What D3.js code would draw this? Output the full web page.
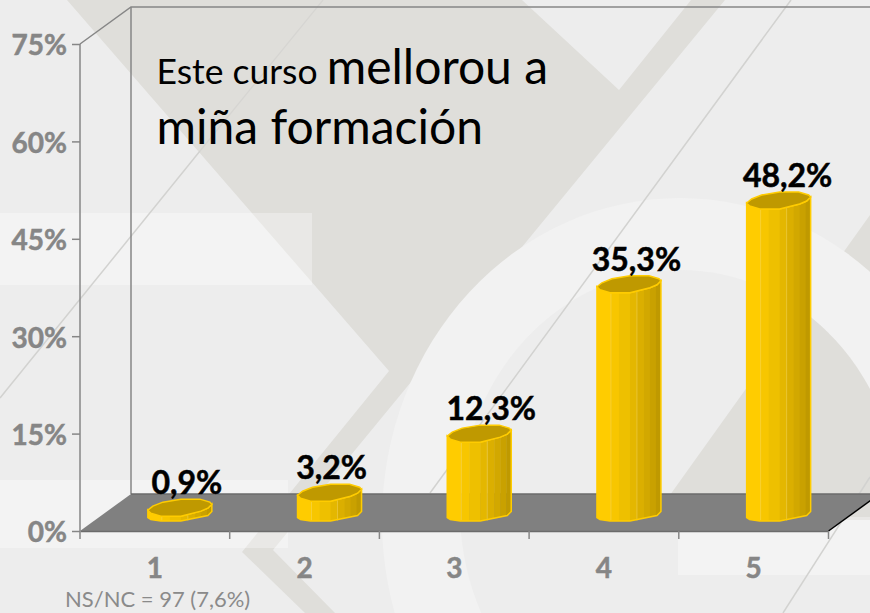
<!DOCTYPE html>
<html>
<head>
<meta charset="utf-8">
<title>Este curso mellorou a miña formación</title>
<script src="https://cdn.jsdelivr.net/npm/d3@7"></script>
<style>
  html, body { margin: 0; padding: 0; background: #ededed; }
  svg { display: block; }
  text { font-family: Lato, "Open Sans", sans-serif; }
</style>
</head>
<body>
<div id="chart"></div>
<script>
const categories = ["1", "2", "3", "4", "5"];
const percentValues = [0.9, 3.2, 12.3, 35.3, 48.2];
const valueLabels = ["0,9%", "3,2%", "12,3%", "35,3%", "48,2%"];
const yTicks = [0, 15, 30, 45, 60, 75];

const width = 870;
const height = 613;

const svg = d3
  .select("#chart")
  .append("svg")
  .attr("width", width)
  .attr("height", height);

const defs = svg.append("defs");
const toPath = d3.line();

// Slide background behind the chart
const bg = svg.append("g").attr("class", "background");
const darkShade = "#dfdeda";
const lightShade = "#f2f2f2";
const rightWedge = [[670, 495], [870, 215], [870, 520], [670, 520]];

bg.append("rect").attr("width", width).attr("height", height).attr("fill", "#ededed");

bg.append("path")
  .attr("d", toPath([[67, 0], [522, 0], [619, 90], [691, 0], [725, 0], [273, 550], [335, 613], [305, 613], [242, 552], [389, 371]]) + "Z")
  .attr("fill", darkShade);

bg.append("path").attr("d", toPath(rightWedge) + "Z").attr("fill", darkShade);

bg.append("ellipse")
  .attr("cx", 680).attr("cy", 520).attr("rx", 298).attr("ry", 322)
  .attr("fill", lightShade);

bg.append("ellipse")
  .attr("cx", 680).attr("cy", 510).attr("rx", 220).attr("ry", 240)
  .attr("fill", "#ededed");

const wedgeClip = defs.append("clipPath").attr("id", "wedge-clip");
wedgeClip.append("ellipse").attr("cx", 680).attr("cy", 510).attr("rx", 220).attr("ry", 240);
wedgeClip.append("rect").attr("x", 860).attr("y", 403).attr("width", 10).attr("height", 120);

bg.append("path")
  .attr("d", toPath(rightWedge) + "Z")
  .attr("fill", darkShade)
  .attr("clip-path", "url(#wedge-clip)");

// Pale strips
[[0, 213, 312, 72], [0, 480, 288, 68], [678, 517, 192, 58]].forEach(([x, y, w, h]) => {
  bg.append("rect")
    .attr("x", x).attr("y", y).attr("width", w).attr("height", h)
    .attr("fill", "#fff").attr("opacity", 0.32);
});

// Thin diagonals, the first one nearly vanishes over the dark shape
[[[0, 398], [200, 151]], [[791, 0], [430, 493]], [[783, 613], [870, 477]]].forEach(pts => {
  bg.append("path")
    .attr("d", toPath(pts))
    .attr("fill", "none")
    .attr("stroke", "#d2d2d0")
    .attr("stroke-width", 1.5);
});
bg.append("path")
  .attr("d", toPath([[200, 151], [323, 0]]))
  .attr("fill", "none")
  .attr("stroke", "#d6d5d2")
  .attr("stroke-width", 1.2);

// Scales, with the 3D depth as a fixed offset
const depthX = 51;
const depthY = 37;

const xScale = d3.scaleBand().domain(categories).range([80, 828.5]);
const yScale = d3.scaleLinear().domain([0, 75]).range([531, 44]);

const axisColor = "#868686";
const x0 = xScale.range()[0];
const x1 = xScale.range()[1];
const yBottom = yScale(0);
const yTop = yScale(75);

// Walls and floor
const walls = svg.append("g").attr("class", "walls");

walls.append("path")
  .attr("d", toPath([[x0, yTop], [x0 + depthX, yTop - depthY], [width, yTop - depthY]]))
  .attr("fill", "none")
  .attr("stroke", axisColor)
  .attr("stroke-width", 1.5);

walls.append("line")
  .attr("x1", x0 + depthX).attr("x2", x0 + depthX)
  .attr("y1", yTop - depthY).attr("y2", yBottom - depthY)
  .attr("stroke", axisColor)
  .attr("stroke-width", 1.5);

walls.append("path")
  .attr("d", toPath([[x0, yBottom], [x1, yBottom], [x1 + depthX, yBottom - depthY], [x0 + depthX, yBottom - depthY]]) + "Z")
  .attr("fill", "#808080");

walls.append("line")
  .attr("x1", x0 + depthX).attr("x2", width)
  .attr("y1", yBottom - depthY).attr("y2", yBottom - depthY)
  .attr("stroke", "#6b6b6b")
  .attr("stroke-width", 1.5);

walls.append("line")
  .attr("x1", x1).attr("x2", x1 + depthX)
  .attr("y1", yBottom).attr("y2", yBottom - depthY)
  .attr("stroke", "#000")
  .attr("stroke-width", 1.5);

// Axes
const yAxis = svg.append("g")
  .attr("transform", `translate(${x0},0)`)
  .call(d3.axisLeft(yScale).tickValues(yTicks).tickSize(8).tickPadding(5).tickFormat(d => d + "%"));

const xAxis = svg.append("g")
  .attr("transform", `translate(0,${yBottom})`)
  .call(d3.axisBottom(xScale).tickSize(0).tickPadding(0));

// axisBottom ticks sit on band centres, the chart has them on the band edges
xAxis.selectAll(".tick line").remove();
xAxis.selectAll(".edge-tick")
  .data(categories.concat("end"))
  .enter()
  .append("line")
  .attr("class", "edge-tick")
  .attr("x1", (d, i) => x0 + i * xScale.step())
  .attr("x2", (d, i) => x0 + i * xScale.step())
  .attr("y1", 0)
  .attr("y2", 8)
  .attr("stroke", axisColor)
  .attr("stroke-width", 1.5);

xAxis.selectAll(".tick text").attr("y", 47).attr("dy", 0);
yAxis.selectAll(".tick text").attr("y", 2);

[yAxis, xAxis].forEach(axis => {
  axis.selectAll(".domain").attr("stroke", axisColor).attr("stroke-width", 1.5);
  axis.selectAll(".tick line").attr("stroke", axisColor).attr("stroke-width", 1.5);
  axis.selectAll(".tick text")
    .attr("fill", axisColor)
    .attr("stroke", axisColor)
    .attr("stroke-width", 0.5)
    .style("font-family", "Lato, sans-serif")
    .style("font-weight", 700)
    .style("font-size", "28px");
});
yAxis.select(".domain").attr("d", `M0,${yTop}V${yBottom}`);
xAxis.select(".domain").attr("stroke", "#6b6b6b");

// Bars: faceted columns seen from above
const barWidth = 64;
const barLeft = d => xScale(d) + xScale.bandwidth() / 2 - barWidth / 2 + depthX / 2 - 0.5;
const capLift = 15;
const baseLift = 13.5;

const capUpper = [[0, 0], [5, -4], [15, -8], [33, -11], [52, -11], [62, -8], [64, -6]];
const capLower = [[64, -6], [60, -2], [53, 1], [33, 6], [13, 6], [3, 3], [0, 0]];
const baseLower = [[64, -6], [60, -2], [33, 3.5], [13, 3.5], [3, 2], [0, 0]];
const facetEdges = [0, 14, 22, 33, 40, 47, 53, 59, 64];
const facetColors = ["#ffcc00", "#f7c600", "#eec000", "#e4b700", "#dbaf00", "#d2a800", "#c9a100", "#bf9900"];

const shift = (pts, dx, dy) => pts.map(([x, y]) => [x + dx, y + dy]);

const bars = svg.selectAll(".bar")
  .data(categories)
  .enter()
  .append("g")
  .attr("class", "bar");

bars.each(function (d, i) {
  const g = d3.select(this);
  const left = barLeft(d);
  const top = yScale(percentValues[i]) - capLift;
  const base = yScale(0) - baseLift;

  const body = toPath(
    shift(capLower.slice().reverse(), left, top).concat(shift(baseLower, left, base))
  ) + "Z";
  const cap = toPath(shift(capUpper.concat(capLower), left, top)) + "Z";

  defs.append("clipPath").attr("id", `bar-clip-${i}`).append("path").attr("d", body);

  g.append("g")
    .attr("clip-path", `url(#bar-clip-${i})`)
    .selectAll("rect")
    .data(facetColors)
    .enter()
    .append("rect")
    .attr("x", (c, j) => left + facetEdges[j])
    .attr("y", top - 12)
    .attr("width", (c, j) => facetEdges[j + 1] - facetEdges[j] + 0.5)
    .attr("height", base - top + 24)
    .attr("fill", c => c);

  // pale seams between some of the facets
  [14, 40].forEach(s => {
    g.append("line")
      .attr("x1", left + s).attr("x2", left + s)
      .attr("y1", top + 5).attr("y2", base + 3)
      .attr("stroke", "#f2d86a")
      .attr("stroke-width", 0.7)
      .attr("opacity", 0.7);
  });

  g.append("path").attr("d", body).attr("fill", "none").attr("stroke", "#ffcc00").attr("stroke-width", 1.5);
  g.append("path").attr("d", cap).attr("fill", "#bf9900").attr("stroke", "#ffcc00").attr("stroke-width", 1.5);
});

// Value labels sit slightly off centre in the original
const labelNudge = [7, 2, 12, 7.5, 9];
svg.selectAll(".value-label")
  .data(valueLabels)
  .enter()
  .append("text")
  .attr("class", "value-label")
  .attr("x", (d, i) => barLeft(categories[i]) + barWidth / 2 + labelNudge[i])
  .attr("y", (d, i) => yScale(percentValues[i]) - 31)
  .attr("text-anchor", "middle")
  .attr("stroke", "#000")
  .attr("stroke-width", 0.5)
  .style("font-size", "32px")
  .style("font-weight", 700)
  .attr("fill", "#000")
  .text(d => d);

// Title inside the plot
const title = svg.append("text").attr("x", 156.5).attr("y", 84).attr("fill", "#000");
title.append("tspan").style("font-size", "35.5px").text("Este curso ");
title.append("tspan").style("font-size", "48px").text("mellorou a");

svg.append("text")
  .attr("x", 156.5)
  .attr("y", 144)
  .attr("fill", "#000")
  .style("font-size", "48px")
  .text("miña formación");

// Footnote
svg.append("text")
  .attr("x", 65)
  .attr("y", 607)
  .attr("fill", "#8a8a8a")
  .style("font-size", "22px")
  .text("NS/NC = 97 (7,6%)");
</script>
</body>
</html>
